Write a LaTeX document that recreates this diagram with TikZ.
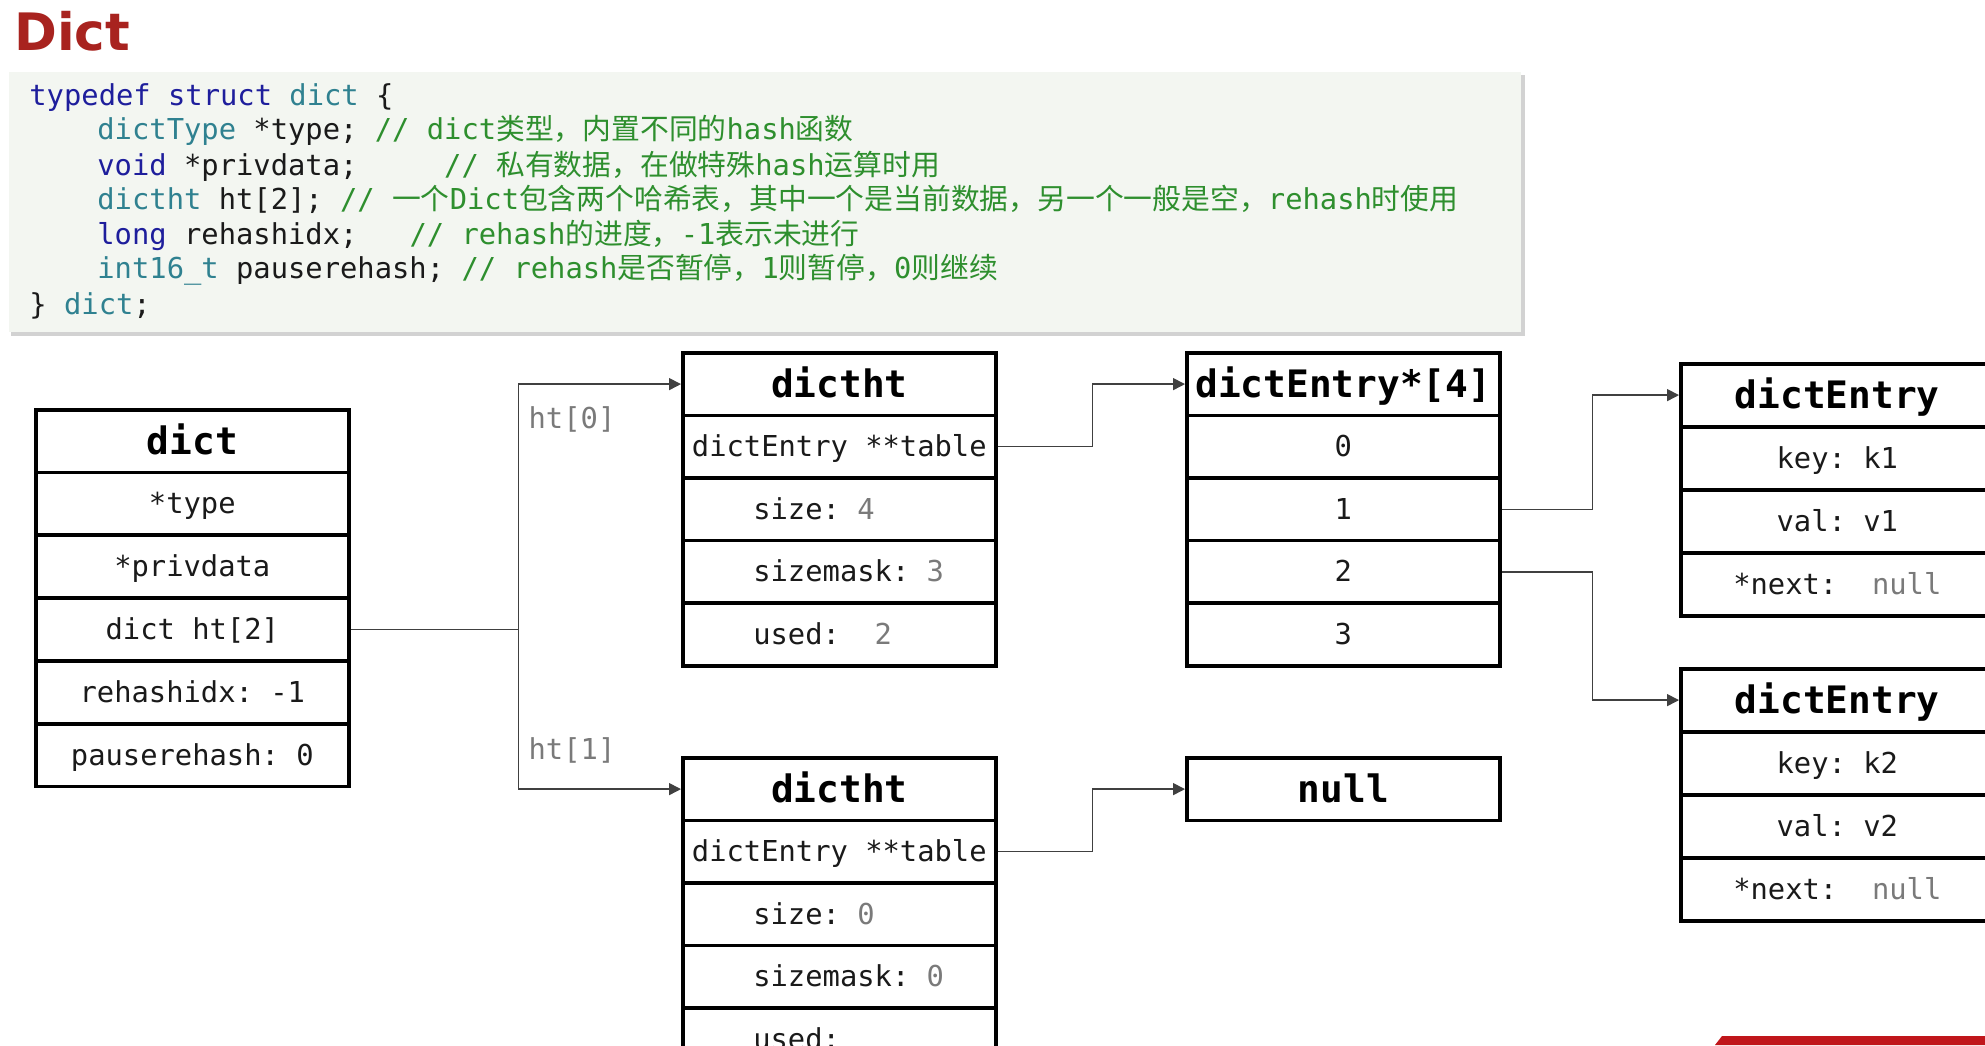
\documentclass[tikz,border=0pt]{standalone}
\usepackage{fontspec}
\usepackage{xcolor}
\usepackage{tikz}
\usetikzlibrary{calc,arrows.meta}
\setmonofont{DejaVu Sans Mono}
\newfontfamily\titlefont{DejaVu Sans}
\newfontfamily\cjk{Noto Sans CJK SC}
\newcommand{\zhtext}[1]{{\cjk #1}}
\newcommand{\leftpad}[1]{\makebox[86pt][l]{#1}}
\definecolor{titlered}{HTML}{A8231F}
\definecolor{kw}{HTML}{1E1E9C}
\definecolor{ty}{HTML}{2F8190}
\definecolor{cm}{HTML}{2E8F2E}
\definecolor{ink}{HTML}{1A1A1A}
\definecolor{muted}{HTML}{7A7A7A}
\definecolor{codebg}{HTML}{F3F6F1}
\definecolor{linkgray}{HTML}{404040}
\definecolor{barred}{HTML}{C0161B}
\tikzset{
  codeline/.style={anchor=west, inner sep=0pt, text=ink, text height=13pt, text depth=3pt, font=\ttfamily\fontsize{14.4pt}{17pt}\selectfont},
  cell/.style={draw=black, line width=1.8pt, anchor=north west, minimum width=156.5pt, minimum height=31.3pt, inner sep=0pt, text=ink, text height=13pt, text depth=3pt, font=\ttfamily\fontsize{14.4pt}{17pt}\selectfont},
  head/.style={cell, text=black, text height=17pt, text depth=4pt, font=\ttfamily\bfseries\fontsize{18.9pt}{22pt}\selectfont},
  link/.style={draw=linkgray, line width=0.75pt, -{Triangle[length=6pt,width=6pt]}},
  joint/.style={draw=linkgray, line width=0.75pt},
  lab/.style={text=muted, inner sep=0pt, font=\ttfamily\fontsize{14.4pt}{17pt}\selectfont},
}

\begin{document}
\begin{tikzpicture}[x=0.5pt, y=-0.5pt]
  \clip (0,0) rectangle (1985,1045);
  \fill[white] (0,0) rectangle (1985,1045);
  \node[anchor=base west, inner sep=0pt, text=titlered, font=\titlefont\bfseries\fontsize{25.8pt}{30pt}\selectfont] (title) at (14,50) {Dict};

  % code block
  \fill[black!25, opacity=0.7] (11,75) rectangle (1525,336);
  \fill[codebg] (9,72) rectangle (1521,332);
  \node[codeline] (c0) at (29,95) {\textcolor{kw}{typedef struct} \textcolor{ty}{dict} \{};
  \node[codeline] (c1) at (97,129) {\textcolor{ty}{dictType} *type; \textcolor{cm}{// dict\zhtext{类型，内置不同的}hash\zhtext{函数}}};
  \node[codeline] (c2) at (97,165) {\textcolor{kw}{void} *privdata;~~~~~\textcolor{cm}{// \zhtext{私有数据，在做特殊}hash\zhtext{运算时用}}};
  \node[codeline] (c3) at (97,199) {\textcolor{ty}{dictht} ht[2]; \textcolor{cm}{// \zhtext{一个}Dict\zhtext{包含两个哈希表，其中一个是当前数据，另一个一般是空，}rehash\zhtext{时使用}}};
  \node[codeline] (c4) at (97,234) {\textcolor{kw}{long} rehashidx;~~~\textcolor{cm}{// rehash\zhtext{的进度，}-1\zhtext{表示未进行}}};
  \node[codeline] (c5) at (97,268) {\textcolor{ty}{int16\_t} pauserehash; \textcolor{cm}{// rehash\zhtext{是否暂停，}1\zhtext{则暂停，}0\zhtext{则继续}}};
  \node[codeline] (c6) at (29,304) {\} \textcolor{ty}{dict};};

  % dict
  \node[head] (D0) at (34,408) {dict};
  \foreach \i/\t in {1/*type,2/*privdata,3/dict ht[2],4/rehashidx: -1,5/pauserehash: 0}
    \node[cell] (D\i) at (34,{408+62.8*\i}) {\t};

  % ht[0]
  \node[head] (H0) at (681,351) {dictht};
  \node[cell] (H1) at (681,413.6) {dictEntry **table};
  \foreach \i/\t in {2/{size: \textcolor{muted}{4}},3/{sizemask: \textcolor{muted}{3}},4/{used:~~\textcolor{muted}{2}}}
    \node[cell] (H\i) at (681,{351+62.6*\i}) {\leftpad{\t}};

  % ht[1]
  \node[head] (B0) at (681,756) {dictht};
  \node[cell] (B1) at (681,818.6) {dictEntry **table};
  \foreach \i/\t in {2/{size: \textcolor{muted}{0}},3/{sizemask: \textcolor{muted}{0}},4/{used:}}
    \node[cell] (B\i) at (681,{756+62.6*\i}) {\leftpad{\t}};

  % table and null
  \node[head] (T0) at (1185,351) {dictEntry*[4]};
  \foreach \i in {1,...,4}
    \node[cell] (T\i) at (1185,{351+62.6*\i}) {\pgfmathparse{int(\i-1)}\pgfmathresult};
  \node[head] (N) at (1185,756) {null};

  % entries
  \node[head] (E0) at (1679,362) {dictEntry};
  \foreach \i/\t in {1/key: k1,2/val: v1,3/{*next:~~\textcolor{muted}{null}}}
    \node[cell] (E\i) at (1679,{362+63.2*\i}) {\t};
  \node[head] (F0) at (1679,667) {dictEntry};
  \foreach \i/\t in {1/key: k2,2/val: v2,3/{*next:~~\textcolor{muted}{null}}}
    \node[cell] (F\i) at (1679,{667+63.2*\i}) {\t};

  % pointers
  \coordinate (j0) at ($(D3.east)+(168,0)$);
  \draw[joint] (D3.east) -- (j0);
  \draw[link] (j0) |- (H0.west);
  \draw[link] (j0) |- (B0.west);
  \node[lab] (l0) at (572,419) {ht[0]};
  \node[lab] (l1) at (572,750) {ht[1]};
  \draw[link] (H1.east) -- ++(95,0) |- (T0.west);
  \draw[link] (B1.east) -- ++(95,0) |- (N.west);
  \draw[link] (T2.east) -- ++(91,0) |- (E0.west);
  \draw[link] (T3.east) -- ++(91,0) |- (F0.west);

  \fill[barred] (1722,1036) -- (1985,1036) -- (1985,1045) -- (1715,1045) -- cycle;
\end{tikzpicture}
\end{document}
